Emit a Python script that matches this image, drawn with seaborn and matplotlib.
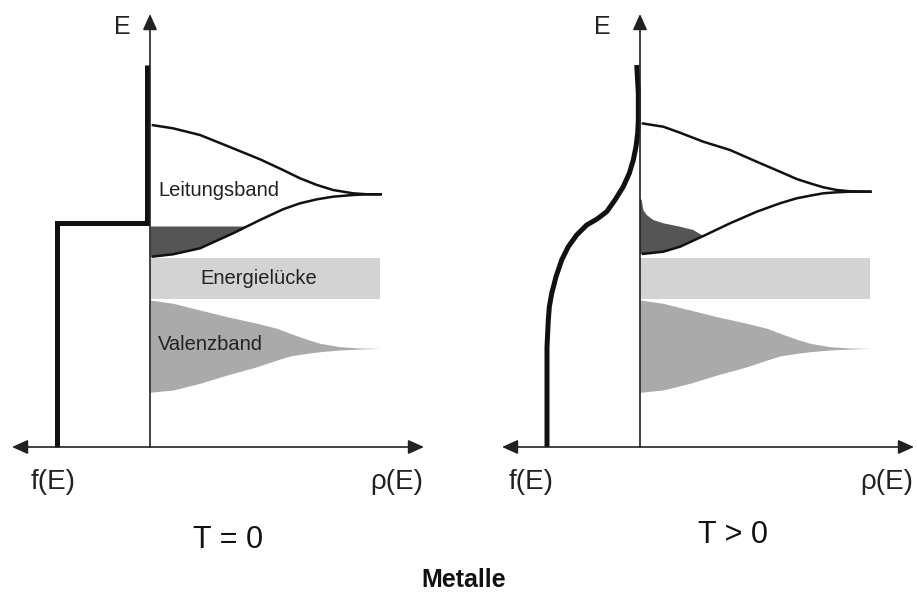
import numpy as np
import matplotlib
matplotlib.use("Agg")
import matplotlib.pyplot as plt
import seaborn as sns

# ---------------- data (arbitrary units: rho / E) ----------------
# Fermi-function width (f is 0..1, drawn to the left of the E axis)
F_WIDTH = 93.0
E_FERMI = 224.5

# T = 0 step function
f_step = [1.0, 1.0, 0.03, 0.03]
E_step = [0.0, 224.5, 224.5, 382.0]

# T > 0 smeared Fermi function
f_smear = [1.0, 1.0, 0.995, 0.986, 0.975, 0.949, 0.903, 0.842, 0.771, 0.681,
           0.573, 0.466, 0.358, 0.269, 0.180, 0.115, 0.072, 0.043, 0.025,
           0.018, 0.018, 0.035]
E_smear = [0.0, 100.0, 110.0, 127.0, 140.3, 153.7, 170.3, 187.0, 200.3, 212.0,
           222.0, 227.7, 235.3, 247.0, 260.3, 273.7, 287.0, 300.3, 313.7,
           327.0, 353.7, 382.0]

# conduction band, left panel (T = 0)
rho_cb_L = [1.7, 23, 50, 83, 110, 133, 150, 167, 183, 203, 217, 232]
cb_top_L = [322, 318.7, 312, 298.7, 287.7, 277, 268.7, 262, 257, 253.7, 252.7, 252.7]
cb_bot_L = [190.3, 192.7, 198.7, 213.7, 227, 237.7, 243.7, 247.7, 250.3, 252, 252.7, 252.7]

# conduction band, right panel (T > 0)
rho_cb_R = [1.7, 23.3, 40, 63.3, 90, 116.7, 140, 156.7, 170, 183.3, 196.7, 210, 231.7]
cb_top_R = [323.7, 320.3, 314.3, 305.3, 297, 285.3, 275.3, 268, 263.7, 259.7, 257, 255.7, 255.3]
cb_bot_R = [193, 195.3, 200.3, 211, 223.7, 235.3, 243.7, 248.7, 251.3, 253.7, 254.7, 255.3, 255.3]

# occupied tail above the band edge at T > 0 (upper boundary)
rho_tail = [0.0, 1.7, 3.3, 6.7, 13.3, 23.3, 40.0, 53.3, 61.7, 63.3]
E_tail = [248, 247, 237, 232, 227, 223.7, 220.3, 217, 212, 211]

# band gap
gap_rho = [0.0, 230.0]
gap_low, gap_high = 148.5, 189.0

# valence band
rho_vb = [0, 23, 50, 77, 107, 127, 140, 157, 170, 190, 210, 230]
vb_top = [147, 143.7, 137, 130.3, 123.7, 118.7, 113.7, 107.7, 103.7, 100.3, 99, 98.7]
vb_bot = [54.7, 57, 63.7, 72, 80.3, 87, 91, 93.7, 95.3, 97, 98, 98.7]

labels_bands = ["Leitungsband", "Energielücke", "Valenzband"]
panel_titles = ["T = 0", "T > 0"]
suptitle = "Metalle"

# ---------------- style ----------------
sns.set_theme(style="white")
plt.rcParams["font.family"] = ["Liberation Sans", "DejaVu Sans"]

C_LINE = "#111111"
C_DARK = "#555555"
C_GAP = "#d3d3d3"
C_VB = "#aaaaaa"
ARROW = "-|>,head_length=0.6,head_width=0.27"
ARROW2 = "<|-|>,head_length=0.6,head_width=0.27"

fig = plt.figure(figsize=(9.17, 5.92), dpi=100)
fig.patch.set_facecolor("white")
axL = fig.add_axes([0, 0, 427 / 917, 1])
axR = fig.add_axes([490 / 917, 0, 427 / 917, 1])


def draw_panel(ax, rho_cb, cb_top, cb_bot, f_vals, E_vals, title, title_xy, elabel_x,
               fE_x, show_labels, tail=False):
    ax.set_xlim(-150, 277)
    ax.set_ylim(-145, 447)
    ax.axis("off")

    # gap
    ax.fill_between(gap_rho, [gap_low] * 2, [gap_high] * 2, color=C_GAP, lw=0, zorder=1)
    # valence band
    ax.fill_between(rho_vb, vb_bot, vb_top, color=C_VB, lw=0, zorder=1)
    # occupied states in conduction band
    rcb = np.array(rho_cb)
    bot = np.array(cb_bot)
    if not tail:
        xs = np.concatenate([[0.0], rcb])
        ys = np.concatenate([[bot[0]], bot])
        ax.fill_between(xs, ys, E_FERMI - 3.5, where=ys <= E_FERMI - 3.5,
                        interpolate=True, color=C_DARK, lw=0, zorder=1)
    else:
        sel = rcb < rho_tail[-1]
        px = list(rho_tail) + list(rcb[sel][::-1]) + [0.0]
        py = list(E_tail) + list(bot[sel][::-1]) + [bot[0]]
        ax.fill(px, py, color=C_DARK, lw=0, zorder=1)
    # conduction band outline
    sns.lineplot(x=rho_cb, y=cb_top, sort=False, estimator=None, ax=ax,
                 color=C_LINE, lw=1.8, zorder=3)
    sns.lineplot(x=rho_cb, y=cb_bot, sort=False, estimator=None, ax=ax,
                 color=C_LINE, lw=1.8, zorder=3)
    # Fermi function
    fx = [-F_WIDTH * v for v in f_vals]
    sns.lineplot(x=fx, y=E_vals, sort=False, estimator=None, ax=ax, color=C_LINE,
                 lw=3.6, zorder=4)
    for ln in ax.lines:
        ln.set_solid_joinstyle("miter" if not tail else "round")
        ln.set_solid_capstyle("butt")

    # axes arrows
    ax.annotate("", xy=(274, 0), xytext=(-138, 0),
                arrowprops=dict(arrowstyle=ARROW2, color="#222222", lw=1.2,
                                mutation_scale=16, shrinkA=0, shrinkB=0), zorder=5)
    ax.annotate("", xy=(0, 433), xytext=(0, 0),
                arrowprops=dict(arrowstyle=ARROW, color="#222222", lw=1.2,
                                mutation_scale=16, shrinkA=0, shrinkB=0), zorder=5)

    ax.text(elabel_x, 420, "E", fontsize=18, ha="center", va="center", color="#222222")
    ax.text(fE_x, -35, "f(E)", fontsize=20, ha="center", va="center", color="#222222")
    ax.text(247, -35, "ρ(E)", fontsize=20, ha="center", va="center", color="#222222")
    ax.text(title_xy[0], title_xy[1], title, fontsize=22, ha="center", va="center",
            color="#111111")
    if show_labels:
        ax.text(8, 257, labels_bands[0], fontsize=14.5, ha="left", va="center",
                color="#222222", zorder=6)
        ax.text(109, 169, labels_bands[1], fontsize=14.5, ha="center", va="center",
                color="#222222", zorder=6)
        ax.text(8, 102, labels_bands[2], fontsize=14.5, ha="left", va="center",
                color="#222222", zorder=6)


draw_panel(axL, rho_cb_L, cb_top_L, cb_bot_L, f_step, E_step, panel_titles[0],
           (78, -93), -28, -97, True, tail=False)
draw_panel(axR, rho_cb_R, cb_top_R, cb_bot_R, f_smear, E_smear, panel_titles[1],
           (93, -88), -38, -109, False, tail=True)

fig.text(0.506, 1 - 580 / 592, suptitle, fontsize=18, fontweight="bold",
         ha="center", va="center", color="#111111")

fig.savefig("out.png", dpi=100, facecolor="white")
